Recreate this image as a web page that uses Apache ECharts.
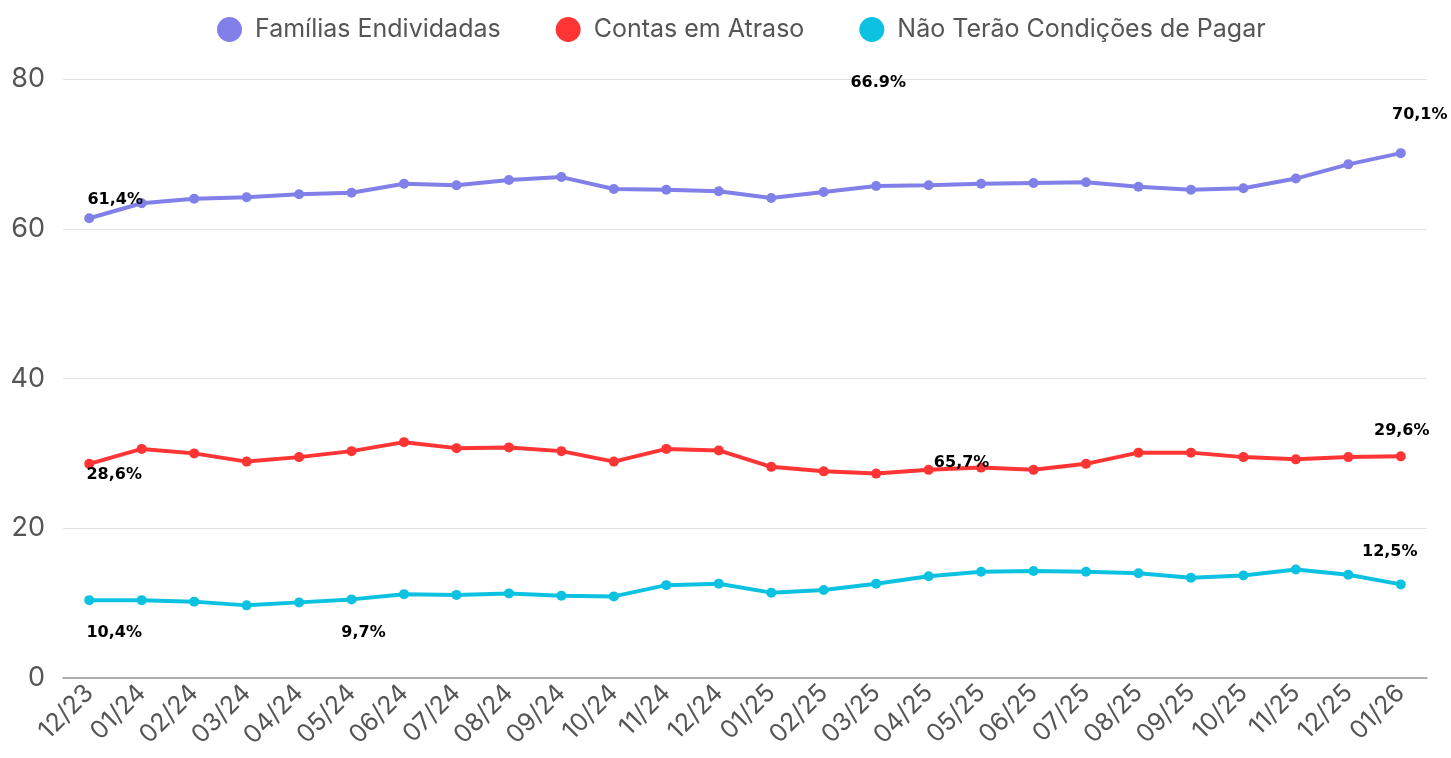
<!DOCTYPE html>
<html><head><meta charset="utf-8">
<script src="https://cdn.jsdelivr.net/npm/echarts@6/dist/echarts.min.js"></script>
<style>html,body{margin:0;padding:0;background:#fff}#c{width:1451px;height:758px}</style>
</head><body><div id="c"></div>
<script>
const categories = ['12/23','01/24','02/24','03/24','04/24','05/24','06/24','07/24','08/24','09/24','10/24','11/24','12/24','01/25','02/25','03/25','04/25','05/25','06/25','07/25','08/25','09/25','10/25','11/25','12/25','01/26'];
const familias = [61.4,63.4,64.0,64.2,64.6,64.8,66.0,65.8,66.5,66.9,65.3,65.2,65.0,64.1,64.9,65.7,65.8,66.0,66.1,66.2,65.6,65.2,65.4,66.7,68.6,70.1];
const contas = [28.6,30.6,30.0,28.9,29.5,30.3,31.5,30.7,30.8,30.3,28.9,30.6,30.4,28.2,27.6,27.3,27.8,28.1,27.8,28.6,30.1,30.1,29.5,29.2,29.5,29.6];
const naoPagar = [10.4,10.4,10.2,9.7,10.1,10.5,11.2,11.1,11.3,11.0,10.9,12.4,12.6,11.4,11.75,12.6,13.6,14.2,14.3,14.2,14.0,13.4,13.7,14.5,13.8,12.5];
const seriesNames = ['Famílias Endividadas','Contas em Atraso','Não Terão Condições de Pagar'];
const yTicks = [0,20,40,60,80];
// annotation texts with anchor category index and y value
const annTexts = ['61,4%','66.9%','70,1%','28,6%','65,7%','29,6%','10,4%','9,7%','12,5%'];
const annCats = [0,15,25,0,16,25,0,5,25];
const annVals = [63.8,79.5,75.2,27.1,28.8,33.0,6.0,6.0,16.8];
const annDx = [26,2,19,25,33,1,25,12,-11];

const colors = ['#8080E8','#FF3535','#0DC2E0'];
const chart = echarts.init(document.getElementById('c'));
const annData = annTexts.map((t,i)=>({
  coord:[annCats[i], annVals[i]],
  label:{show:true, formatter:t, position:'inside', offset:[annDx[i],0],
    color:'#000', fontFamily:'DejaVu Sans', fontWeight:'bold', fontSize:16}
}));
const mk = (name, data, color, withAnn) => ({
  name, type:'line', data, color,
  symbol:'circle', symbolSize:10, showSymbol:true,
  lineStyle:{width:4, color}, itemStyle:{color},
  animation:false,
  markPoint: withAnn ? {symbol:'circle', symbolSize:1, itemStyle:{color:'rgba(0,0,0,0)'}, data:annData, animation:false} : undefined
});
chart.setOption({
  animation:false,
  legend:{top:12, left:212, icon:'circle', itemWidth:25, itemHeight:25, itemGap:55,
    textStyle:{fontFamily:'Inter', fontSize:25, color:'#555', padding:[0,0,0,8]}, data:seriesNames},
  grid:{left:63, right:24, top:79, bottom:80},
  xAxis:{type:'category', data:categories, boundaryGap:true,
    axisLine:{lineStyle:{color:'#999', width:1.5}}, axisTick:{show:false},
    axisLabel:{rotate:45, fontFamily:'Inter', fontSize:25, color:'#555', margin:11, interval:0}},
  yAxis:{type:'value', min:yTicks[0], max:yTicks[yTicks.length-1], interval:20,
    axisLabel:{fontFamily:'Inter', fontSize:27, color:'#555', margin:18},
    splitLine:{lineStyle:{color:'#e3e3e3', width:1}}, axisLine:{show:false}, axisTick:{show:false}},
  series:[mk(seriesNames[0], familias, colors[0], true), mk(seriesNames[1], contas, colors[1], false), mk(seriesNames[2], naoPagar, colors[2], false)]
});
</script></body></html>
